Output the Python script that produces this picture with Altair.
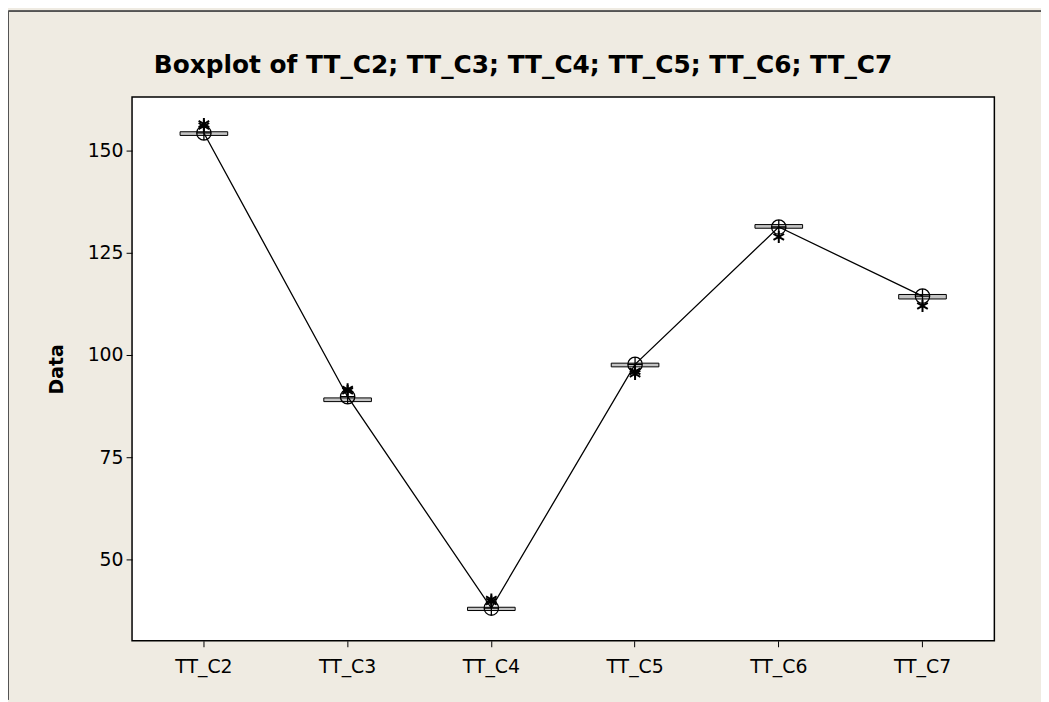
import altair as alt
import pandas as pd

cats = ["TT_C2", "TT_C3", "TT_C4", "TT_C5", "TT_C6", "TT_C7"]
q1 = [153.7, 88.6, 37.5, 97.1, 131.0, 113.7]
q3 = [154.6, 89.5, 38.3, 98.0, 131.9, 114.8]
means = [154.3, 89.8, 38.1, 97.7, 131.3, 114.4]

out_cats = ["TT_C2", "TT_C2", "TT_C3", "TT_C3", "TT_C4", "TT_C4", "TT_C5", "TT_C5", "TT_C6", "TT_C7"]
out_vals = [156.0, 156.5, 91.2, 91.6, 39.7, 40.2, 95.4, 96.0, 128.9, 112.0]

title_text = ["Boxplot of TT_C2; TT_C3; TT_C4; TT_C5; TT_C6; TT_C7"]

box_df = pd.DataFrame({"cat": cats, "q1": q1, "q3": q3, "mean": means})
out_df = pd.DataFrame({"cat": out_cats, "val": out_vals})
title_df = pd.DataFrame({"t": title_text})

FONT = "DejaVu Sans"
W, H = 869, 548

xenc = alt.X("cat:N", sort=cats, title=None,
             scale=alt.Scale(paddingInner=0, paddingOuter=0),
             axis=alt.Axis(labelAngle=0, labelFontSize=19, labelFont=FONT, labelColor="black",
                           tickColor="black", tickSize=6, tickWidth=1, domain=False,
                           labelPadding=11, grid=False))
yscale = alt.Scale(domain=[30.1, 163.1], nice=False, zero=False)
yaxis = alt.Axis(values=[50, 75, 100, 125, 150], labelFontSize=19, labelFont=FONT, labelColor="black",
                 tickColor="black", tickSize=6, tickWidth=1, domain=False, grid=False,
                 labelPadding=3, title="Data", titleFont=FONT, titleFontSize=19,
                 titleFontWeight="bold", titleColor="black", titleAngle=-90,
                 titleX=-76, titleY=H / 2, titleAlign="center", titleBaseline="middle")

boxes = alt.Chart(box_df).mark_bar(size=48, fill="#c4c4c4", stroke="black", strokeWidth=1).encode(
    x=xenc,
    y=alt.Y("q1:Q", scale=yscale, axis=yaxis),
    y2="q3:Q",
)

mean_line = alt.Chart(box_df).mark_line(color="black", strokeWidth=1.3).encode(
    x=alt.X("cat:N", sort=cats),
    y=alt.Y("mean:Q", scale=yscale),
)

mean_sym = alt.Chart(box_df).mark_point(
    shape="M-1,0A1,1 0 1,0 1,0A1,1 0 1,0 -1,0M-1,0L1,0M0,-1L0,1",
    size=210, filled=False, stroke="black", strokeWidth=1.3, opacity=1,
).encode(
    x=alt.X("cat:N", sort=cats),
    y=alt.Y("mean:Q", scale=yscale),
)

outliers = alt.Chart(out_df).mark_point(
    shape="M0,-1L0,1M-0.87,-0.5L0.87,0.5M-0.87,0.5L0.87,-0.5",
    size=150, filled=False, stroke="black", strokeWidth=2, opacity=1,
).encode(
    x=alt.X("cat:N", sort=cats),
    y=alt.Y("val:Q", scale=yscale),
)

frame_left = alt.Chart(box_df).mark_rule(color="#555555", strokeWidth=1).encode(
    x=alt.value(-124.5), y=alt.value(-86.5), y2=alt.value(H + 59)
)
frame_top = alt.Chart(box_df).mark_rule(color="#555555", strokeWidth=1).encode(
    x=alt.value(-124.5), x2=alt.value(W + 47), y=alt.value(-86.5)
)

title_mark = alt.Chart(title_df).mark_text(
    align="left", baseline="alphabetic", font=FONT, fontSize=25, fontWeight="bold", color="black"
).encode(text="t:N", x=alt.value(22), y=alt.value(-24))

chart = alt.layer(frame_left, frame_top, boxes, mean_line, mean_sym, outliers, title_mark).properties(
    width=W, height=H,
    autosize=alt.AutoSizeParams(type="none"),
    padding={"left": 125, "top": 87, "right": 47, "bottom": 59},
    background="#EFEBE2",
).configure_view(stroke="black", strokeWidth=1.5, fill="white")

chart.save("out.html", embed_options={"renderer": "svg", "actions": False})
